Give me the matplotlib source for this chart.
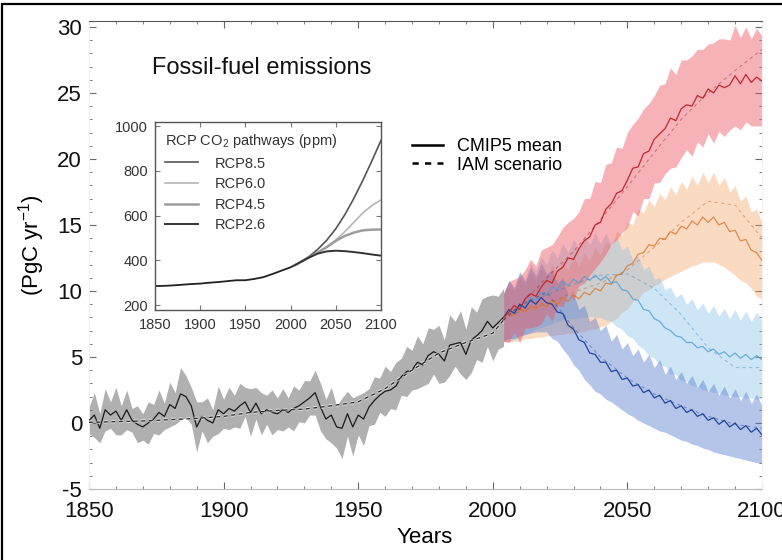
import numpy as np
import matplotlib
matplotlib.use("Agg")
import matplotlib.pyplot as plt
import matplotlib.patheffects as pe
from matplotlib.lines import Line2D
from matplotlib.patches import Rectangle
from matplotlib.ticker import MultipleLocator

plt.rcParams['font.family'] = ['Liberation Sans', 'DejaVu Sans']
plt.rcParams['mathtext.fontset'] = 'custom'
plt.rcParams['mathtext.rm'] = 'Liberation Sans'
plt.rcParams['mathtext.default'] = 'regular'
plt.rcParams['axes.unicode_minus'] = False

# ---------------- main panel: fossil-fuel emissions (PgC/yr) ----------------
hist_years = np.arange(1850, 2005, 2)          # 1850 ... 2004
hist_mean = [0.2, 0.6, -0.4, 1.0, 0.6, 0.9, 0.2, 1.0, 0.2, -0.1,
             -0.3, 0.0, 0.3, 0.8, 0.5, 1.4, 1.1, 2.2, 2.0, 1.3,
             -0.3, 0.5, 0.2, 0.0, 1.0, 0.7, 1.1, 0.9, 1.3, 1.6,
             0.8, 1.5, 0.7, 1.0, 0.8, 0.7, 1.0, 0.8, 1.1, 1.3,
             1.6, 1.9, 2.3, 1.2, 0.3, 0.6, -0.3, -0.4, 0.7, -0.3,
             0.6, 0.3, 1.2, 1.7, 2.1, 2.4, 2.5, 2.8, 3.5, 3.9,
             4.0, 4.6, 4.4, 5.1, 5.4, 5.2, 4.7, 5.9, 6.0, 6.1,
             5.2, 6.3, 6.6, 7.0, 7.7, 7.2, 7.6, 8.0]
hist_spread = [1.0, 1.7, 1.1, 1.6, 1.0, 1.8, 1.1, 1.5, 0.9, 1.4,
               1.0, 1.6, 1.1, 1.7, 1.0, 1.7, 1.2, 2.0, 1.6, 1.4,
               1.9, 1.1, 1.7, 1.0, 1.8, 1.1, 1.6, 1.2, 1.7, 1.1,
               1.8, 1.2, 1.6, 1.1, 1.7, 1.2, 1.6, 1.1, 1.7, 1.2,
               1.6, 1.3, 1.7, 1.8, 1.5, 2.1, 1.6, 2.3, 1.7, 2.2,
               1.5, 2.0, 1.4, 1.8, 1.3, 1.9, 1.4, 1.8, 1.4, 1.9,
               1.5, 2.0, 1.6, 2.1, 1.7, 2.2, 1.6, 2.3, 1.7, 2.4,
               1.9, 2.5, 1.8, 2.4, 1.9, 2.5, 2.0, 2.2]
iam_hist_years = [1850, 1860, 1870, 1880, 1890, 1900, 1910, 1920, 1930,
                  1940, 1950, 1960, 1970, 1980, 1990, 2000, 2004]
iam_hist = [0.05, 0.1, 0.15, 0.25, 0.35, 0.5, 0.8, 0.95, 1.05,
            1.3, 1.6, 2.6, 4.0, 5.3, 6.1, 6.8, 7.8]

fut_years = np.arange(2004, 2101, 2)           # 2004 ... 2100
rcp85_mean = [8.0, 8.4, 8.9, 8.6, 9.4, 9.8, 9.6, 10.3, 10.8, 10.6,
              11.5, 11.8, 12.5, 12.4, 13.2, 13.8, 14.1, 15.0, 15.2, 16.2,
              16.6, 17.4, 17.6, 18.4, 19.3, 19.4, 20.4, 20.6, 21.5, 21.9,
              22.3, 23.1, 22.9, 23.8, 24.1, 24.0, 24.8, 24.6, 25.3, 25.0,
              25.6, 25.4, 25.6, 26.3, 25.7, 26.4, 25.8, 26.2, 25.9]
rcp85_spread = [1.8, 2.3, 2.0, 2.5, 2.2, 2.6, 2.3, 2.8, 2.5, 2.9,
                2.6, 3.0, 2.7, 3.1, 2.8, 3.2, 2.9, 3.3, 3.0, 3.4,
                3.1, 3.5, 3.2, 3.6, 3.3, 3.7, 3.4, 3.6, 3.3, 3.7,
                3.4, 3.8, 3.5, 3.7, 3.4, 3.8, 3.5, 3.7, 3.4, 3.8,
                3.5, 3.7, 3.4, 3.8, 3.5, 3.6, 3.3, 3.7, 3.4]
rcp60_mean = [8.0, 8.3, 8.1, 8.6, 8.4, 8.9, 8.6, 9.1, 8.8, 9.3,
              9.0, 9.5, 9.2, 9.7, 9.4, 9.9, 9.7, 10.2, 10.0, 10.6,
              10.5, 11.2, 11.3, 11.9, 12.1, 12.8, 12.9, 13.5, 13.4, 14.0,
              13.9, 14.5, 14.3, 14.9, 14.7, 15.3, 15.0, 15.6, 15.2, 15.6,
              15.0, 15.2, 14.5, 14.6, 13.8, 13.9, 13.1, 12.9, 12.3]
rcp60_spread = [1.8, 2.2, 1.9, 2.4, 2.0, 2.5, 2.1, 2.6, 2.2, 2.7,
                2.3, 2.8, 2.4, 2.9, 2.5, 3.0, 2.6, 3.1, 2.7, 3.2,
                2.8, 3.3, 2.9, 3.3, 2.9, 3.4, 3.0, 3.4, 3.0, 3.4,
                3.0, 3.4, 3.0, 3.4, 3.0, 3.4, 3.0, 3.4, 3.0, 3.4,
                3.0, 3.4, 3.0, 3.4, 3.0, 3.3, 2.9, 3.3, 2.9]
rcp45_mean = [8.0, 8.5, 8.3, 9.0, 8.8, 9.5, 9.3, 9.9, 9.7, 10.3,
              10.1, 10.7, 10.4, 10.9, 10.6, 11.1, 10.8, 11.2, 10.8, 11.1,
              10.6, 10.7, 10.1, 10.0, 9.4, 9.3, 8.6, 8.5, 7.9, 7.7,
              7.2, 7.0, 6.6, 6.5, 6.1, 6.1, 5.7, 5.8, 5.4, 5.6,
              5.2, 5.4, 5.0, 5.3, 4.9, 5.2, 4.8, 5.1, 4.8]
rcp45_spread = [1.8, 2.3, 2.0, 2.5, 2.1, 2.6, 2.2, 2.7, 2.3, 2.8,
                2.4, 2.9, 2.5, 3.0, 2.6, 3.1, 2.7, 3.2, 2.8, 3.3,
                2.9, 3.4, 3.0, 3.4, 3.0, 3.4, 3.0, 3.4, 3.0, 3.3,
                2.9, 3.3, 2.9, 3.3, 2.9, 3.3, 2.9, 3.3, 2.9, 3.3,
                2.9, 3.3, 2.9, 3.3, 2.9, 3.3, 2.9, 3.3, 2.9]
rcp26_mean = [8.0, 8.6, 8.3, 9.0, 8.7, 9.3, 9.0, 9.5, 9.1, 9.0,
              8.4, 8.3, 7.4, 7.1, 6.3, 6.1, 5.3, 5.2, 4.6, 4.6,
              3.9, 4.0, 3.3, 3.4, 2.8, 2.9, 2.3, 2.5, 1.9, 2.1,
              1.5, 1.7, 1.1, 1.3, 0.8, 1.0, 0.5, 0.7, 0.2, 0.4,
              -0.1, 0.2, -0.3, 0.0, -0.5, -0.2, -0.7, -0.4, -0.9]
rcp26_spread = [1.8, 2.2, 1.9, 2.4, 2.0, 2.5, 2.1, 2.6, 2.2, 2.6,
                2.2, 2.7, 2.3, 2.7, 2.3, 2.8, 2.4, 2.8, 2.4, 2.8,
                2.3, 2.7, 2.3, 2.7, 2.3, 2.7, 2.3, 2.7, 2.3, 2.7,
                2.2, 2.6, 2.2, 2.6, 2.2, 2.6, 2.2, 2.6, 2.2, 2.6,
                2.2, 2.6, 2.2, 2.6, 2.2, 2.6, 2.2, 2.6, 2.2]

iam_fut_years = [2004, 2010, 2020, 2030, 2040, 2050, 2060, 2070, 2080, 2090, 2100]
iam_rcp85 = [7.8, 8.9, 11.0, 13.0, 15.4, 17.9, 20.5, 23.0, 25.0, 26.7, 28.3]
iam_rcp60 = [7.8, 8.5, 9.0, 9.9, 10.6, 11.6, 13.3, 15.2, 16.8, 16.5, 14.0]
iam_rcp45 = [7.8, 8.9, 9.7, 10.5, 11.2, 11.3, 10.2, 8.2, 5.7, 4.2, 4.2]
iam_rcp26 = [7.8, 8.9, 9.9, 7.2, 5.0, 3.4, 2.2, 1.3, 0.5, -0.1, -0.4]

# ---------------- inset: RCP CO2 concentration pathways (ppm) ----------------
co2_hist_years = [1850, 1860, 1870, 1880, 1890, 1900, 1910, 1920, 1930,
                  1940, 1950, 1960, 1970, 1980, 1990, 2000, 2005]
co2_hist = [285, 286, 288, 291, 294, 296, 300, 303, 307,
            311, 311, 317, 325, 339, 354, 369, 379]
co2_rcp_years = [2005, 2010, 2020, 2030, 2040, 2050, 2060, 2070, 2080, 2090, 2100]
co2_rcp85 = [379, 390, 416, 449, 490, 541, 604, 677, 758, 845, 936]
co2_rcp60 = [379, 390, 412, 435, 460, 491, 528, 570, 612, 645, 670]
co2_rcp45 = [379, 390, 412, 435, 459, 487, 509, 524, 534, 537, 538]
co2_rcp26 = [379, 390, 412, 430, 440, 443, 441, 437, 432, 426, 421]
rcp_names = ['RCP8.5', 'RCP6.0', 'RCP4.5', 'RCP2.6']

fig = plt.figure(figsize=(7.82, 5.6), dpi=100)
ax = fig.add_axes([0.1138, 0.1268, 0.8606, 0.8357])

def band(years, mean, spread, fill, line, z, alpha, line_alpha=1.0):
    m = np.asarray(mean)
    s = np.asarray(spread)
    ax.fill_between(years, m - s, m + s, color=fill, alpha=alpha, lw=0, zorder=z)
    ax.plot(years, m, color=line, lw=0.9, alpha=line_alpha, zorder=z + 5)

# historical period
band(hist_years, hist_mean, hist_spread, '#707070', '#1a1a1a', 2, 0.55)
ax.plot(iam_hist_years, iam_hist, color='#222222', lw=0.9, ls=(0, (3, 3)), zorder=8,
        path_effects=[pe.withStroke(linewidth=2.4, foreground='white', alpha=0.6)])

# scenario period
band(fut_years, rcp60_mean, rcp60_spread, '#f5a060', '#d9772e', 2, 0.38, 0.8)
band(fut_years, rcp45_mean, rcp45_spread, '#80bde8', '#4f9fd6', 2.1, 0.38, 0.8)
band(fut_years, rcp26_mean, rcp26_spread, '#5a7fd0', '#25449a', 2.2, 0.45)
band(fut_years, rcp85_mean, rcp85_spread, '#ee5560', '#c0282e', 2.3, 0.45)
for vals, col in [(iam_rcp60, '#b65a1c'), (iam_rcp45, '#2f7fb8'),
                  (iam_rcp26, '#1b3478'), (iam_rcp85, '#8e1a20')]:
    ax.plot(iam_fut_years, vals, color=col, lw=0.8, ls=(0, (3, 3)), alpha=0.4, zorder=9)

ax.set_xlim(1850, 2100)
ax.set_ylim(-5, 30.45)
ax.xaxis.set_major_locator(MultipleLocator(50))
ax.xaxis.set_minor_locator(MultipleLocator(10))
ax.yaxis.set_major_locator(MultipleLocator(5))
ax.yaxis.set_minor_locator(MultipleLocator(1))
ax.tick_params(which='both', direction='in', top=True, right=True, colors='#666666',
               labelcolor='#111111', labelsize=16)
ax.tick_params(axis='x', which='major', length=5, pad=9)
ax.tick_params(axis='y', which='major', length=5, pad=5)
ax.tick_params(which='minor', length=2.5)
ax.spines['top'].set_color('#555555')
ax.spines['bottom'].set_color('#bbbbbb')
ax.spines['left'].set_color('#eeeeee')
ax.spines['right'].set_color('#f2f2f2')

ax.set_xlabel('Years', fontsize=16)
ax.xaxis.set_label_coords(0.499, -0.1026)
ax.xaxis.label.set_va('center')
ax.set_ylabel('(PgC yr$^{-1}$)', fontsize=16)
ax.yaxis.set_label_coords(-0.086, 0.521)
ax.yaxis.label.set_va('center')

ax.text(1873.4, 26.9, 'Fossil-fuel emissions', fontsize=17, ha='left', va='center',
        color='#111111')

handles = [Line2D([], [], color='black', lw=1.8),
           Line2D([], [], color='black', lw=1.8, ls=(0, (2.5, 2.5)))]
ax.legend(handles, ['CMIP5 mean', 'IAM scenario'], loc='upper left',
          bbox_to_anchor=(0.48, 0.75), frameon=False, fontsize=13,
          handlelength=1.7, handletextpad=0.8, labelspacing=0.1,
          borderpad=0, borderaxespad=0)

# inset
ins = fig.add_axes([0.1982, 0.4464, 0.289, 0.3357])
ins.set_facecolor('white')
ins.plot(co2_hist_years, co2_hist, color='#222222', lw=1.3)
ins_cols = ['#555555', '#b5b5b5', '#9d9d9d', '#333333']
ins_lws = [1.2, 1.2, 1.8, 1.4]
for vals, col, lw in zip([co2_rcp85, co2_rcp60, co2_rcp45, co2_rcp26], ins_cols, ins_lws):
    ins.plot(co2_rcp_years, vals, color=col, lw=lw)
ins.set_xlim(1850, 2100)
ins.set_ylim(178, 1018)
ins.xaxis.set_major_locator(MultipleLocator(50))
ins.yaxis.set_major_locator(MultipleLocator(200))
ins.tick_params(direction='in', top=True, right=True, length=3.5, colors='#777777',
                labelcolor='#333333', labelsize=10.5)
ins.tick_params(axis='x', pad=6)
ins.tick_params(axis='y', pad=5)
for sp in ins.spines.values():
    sp.set_color('#555555')
    sp.set_linewidth(1.0)
ins_handles = [Line2D([], [], color=c, lw=l) for c, l in zip(ins_cols, ins_lws)]
leg = ins.legend(ins_handles, rcp_names, title='RCP CO$_2$ pathways (ppm)',
                 loc='upper left', bbox_to_anchor=(0.044, 0.947), frameon=False,
                 fontsize=10.5, title_fontsize=10.5, alignment='left',
                 handlelength=2.3, handletextpad=1.1, labelspacing=0.45,
                 borderpad=0, borderaxespad=0)
for t in leg.get_texts():
    t.set_color('#333333')
leg.get_title().set_color('#333333')

# outer frame of the figure
fig.add_artist(Rectangle((0.003, -0.1), 1.2, 1.093, transform=fig.transFigure,
                         fill=False, lw=1.6, ec='black', clip_on=False))

fig.savefig('out.png', dpi=100)
